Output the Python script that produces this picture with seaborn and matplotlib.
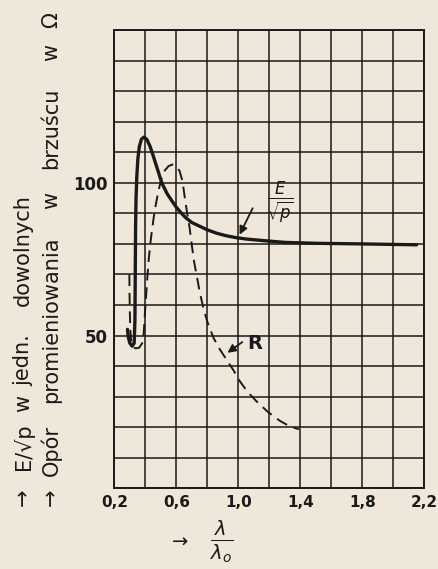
import numpy as np
import pandas as pd
import matplotlib
matplotlib.use("Agg")
import matplotlib.pyplot as plt
import seaborn as sns

# ------------------------------------------------------------
# Data
# ------------------------------------------------------------
# solid curve: E / sqrt(p)
e_x = [0.285, 0.29, 0.30, 0.315, 0.328, 0.333, 0.335, 0.337, 0.34, 0.345,
       0.352, 0.362, 0.375, 0.392, 0.41, 0.43, 0.45, 0.475, 0.506, 0.54,
       0.57, 0.60, 0.63, 0.66, 0.70, 0.75, 0.80, 0.86, 0.92, 0.98,
       1.05, 1.18, 1.3, 1.5, 1.8, 2.15]
e_y = [52, 49.5, 47.5, 46.5, 47.5, 55, 70, 85, 95, 102,
       108, 112, 114.3, 115, 114.2, 112, 109, 105, 100, 96.5,
       94.2, 92, 90.2, 88.6, 87, 85.8, 84.6, 83.5, 82.7, 82.1,
       81.6, 81, 80.5, 80.2, 80, 79.7]

# dashed curve: R (radiation resistance)
r_x = [0.297, 0.298, 0.30, 0.303, 0.308, 0.318, 0.335, 0.36, 0.38, 0.39,
       0.397, 0.405, 0.413, 0.422, 0.432, 0.443, 0.455, 0.468, 0.485, 0.505,
       0.525, 0.55, 0.575, 0.60, 0.62, 0.64, 0.655, 0.67, 0.685, 0.70,
       0.715, 0.73, 0.75, 0.774, 0.80, 0.84, 0.88, 0.925, 0.97, 1.01,
       1.06, 1.12, 1.19, 1.27, 1.33, 1.39]
r_y = [70, 64, 58, 52, 48.5, 46.5, 45.8, 46, 47.5, 51,
       57, 63, 69, 75, 80, 84.5, 89, 93, 97.5, 101.5,
       104, 105.5, 106, 105.3, 104, 100.5, 95, 90, 85.5, 79.5,
       74, 70, 64.5, 59, 54.5, 49.2, 45.5, 42, 38.5, 35,
       31.5, 28.3, 25, 22, 20.3, 19.3]

x_ticks = [0.2, 0.6, 1.0, 1.4, 1.8, 2.2]
x_tick_labels = ["0,2", "0,6", "1,0", "1,4", "1,8", "2,2"]
y_ticks = [50, 100]
y_tick_labels = ["50", "100"]

# rotated axis titles, word by word (handwritten spacing)
ylab1_words = ["\u2192", "E/\u221ap", "w", "jedn.", "dowolnych"]
ylab1_pos = [497, 447, 403, 360, 250]
ylab2_words = ["\u2192", "Op\u00f3r", "promieniowania", "w", "brzu\u015bcu", "w", "\u03a9"]
ylab2_pos = [497, 450, 320, 200, 128, 52, 20]

paper = "#efe7da"
ink = "#1a1a1a"

sns.set_theme(style="white")
plt.rcParams["font.family"] = ["DejaVu Sans"]

W, H = 438, 569
fig = plt.figure(figsize=(W / 100, H / 100), dpi=100, facecolor=paper)
ax = fig.add_axes([0.261, 0.142, 0.708, 0.805])
ax.set_facecolor(paper)

# graph-paper grid
for gx in np.arange(0.2, 2.21, 0.2):
    ax.axvline(gx, color=ink, lw=1.1, zorder=1)
for gy in np.arange(0, 151, 10):
    ax.axhline(gy, color=ink, lw=1.1, zorder=1)

e_df = pd.DataFrame({"x": e_x, "y": e_y})
r_df = pd.DataFrame({"x": r_x, "y": r_y})

sns.lineplot(data=e_df, x="x", y="y", ax=ax, color=ink, lw=2.4,
             estimator=None, sort=False, zorder=3)
sns.lineplot(data=r_df, x="x", y="y", ax=ax, color=ink, lw=1.4,
             linestyle=(0, (6, 3.5)), estimator=None, sort=False, zorder=3)

ax.set_xlim(0.2, 2.2)
ax.set_ylim(0, 150)
ax.set_xticks(x_ticks)
ax.set_xticklabels(x_tick_labels, fontsize=11, fontweight="bold", color=ink)
ax.set_yticks(y_ticks)
ax.set_yticklabels(y_tick_labels, fontsize=12, fontweight="bold", color=ink)
ax.tick_params(length=0, pad=5)
ax.set_xlabel("")
ax.set_ylabel("")
for s in ax.spines.values():
    s.set_color(ink)
    s.set_linewidth(1.4)

# curve labels with arrows
ax.annotate("", xy=(1.0, 82.2), xytext=(1.1, 92.5),
            arrowprops=dict(arrowstyle="-|>", color=ink, lw=1.3))
ax.text(1.27, 93.5, r"$\frac{E}{\sqrt{p}}$", fontsize=17, color=ink,
        ha="center", va="center")
ax.annotate("", xy=(0.915, 43.8), xytext=(1.04, 48.4),
            arrowprops=dict(arrowstyle="-|>", color=ink, lw=1.3))
ax.text(1.055, 47.3, "R", fontsize=14, fontweight="bold", color=ink,
        ha="left", va="center")

# x axis title
fig.text(180 / W, 1 - 542 / H, "\u2192", fontsize=14, color=ink,
         ha="center", va="center")
fig.text(222 / W, 1 - 542 / H, r"$\frac{\lambda}{\lambda_o}$", fontsize=20,
         color=ink, ha="center", va="center")

# y axis titles
for word, yp in zip(ylab1_words, ylab1_pos):
    fig.text(23 / W, 1 - yp / H, word, fontsize=15, color=ink, rotation=90,
             ha="center", va="center")
for word, yp in zip(ylab2_words, ylab2_pos):
    fig.text(51 / W, 1 - yp / H, word, fontsize=15, color=ink, rotation=90,
             ha="center", va="center")

fig.savefig("out.png", dpi=100, facecolor=paper)
